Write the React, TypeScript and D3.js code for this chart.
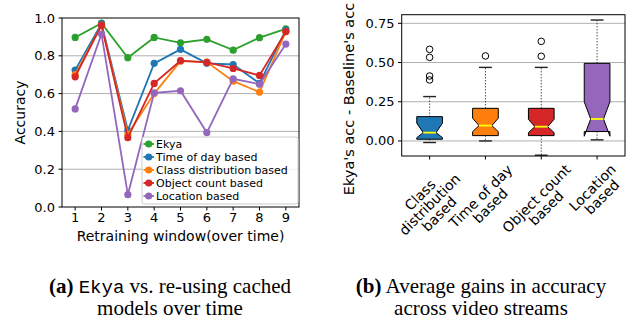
import React, { useEffect, useRef } from 'react';
import * as d3 from 'd3';

// left panel: accuracy per retraining window
const windows = [1, 2, 3, 4, 5, 6, 7, 8, 9];
const seriesNames = ['Ekya', 'Time of day based', 'Class distribution based', 'Object count based', 'Location based'];
const seriesColors = ['#2ca02c', '#1f77b4', '#ff7f0e', '#d62728', '#9467bd'];
const ekya = [0.897, 0.973, 0.79, 0.897, 0.869, 0.887, 0.83, 0.896, 0.943];
const timeOfDay = [0.724, 0.97, 0.406, 0.76, 0.834, 0.76, 0.754, 0.654, 0.936];
const classDist = [0.7, 0.962, 0.385, 0.6, 0.772, 0.767, 0.666, 0.608, 0.928];
const objectCount = [0.689, 0.962, 0.367, 0.654, 0.774, 0.765, 0.733, 0.696, 0.928];
const locationBased = [0.519, 0.915, 0.065, 0.604, 0.615, 0.394, 0.678, 0.65, 0.862];
const leftYTicks = [0.0, 0.2, 0.4, 0.6, 0.8, 1.0];

// right panel: box stats of gains
const boxLabels = [['Class', 'distribution', 'based'], ['Time of day', 'based'], ['Object count', 'based'], ['Location', 'based']];
const boxColors = ['#1f77b4', '#ff7f0e', '#d62728', '#9467bd'];
const boxQ1 = [0.011, 0.034, 0.034, 0.06];
const boxMedian = [0.053, 0.098, 0.091, 0.14];
const boxQ3 = [0.155, 0.208, 0.208, 0.495];
const notchLo = [0.021, 0.059, 0.053, 0.03];
const notchHi = [0.113, 0.145, 0.138, 0.25];
const whiskerLo = [-0.01, 0.0, -0.091, 0.007];
const whiskerHi = [0.283, 0.469, 0.469, 0.771];
const fliers = [[0.584, 0.533, 0.414, 0.389], [0.542], [0.635, 0.54], []];
const rightYTicks = [0.0, 0.25, 0.5, 0.75];

const FONT = 'DejaVu Sans';
const SERIF = "'Liberation Serif', 'Times New Roman', serif";

const App = () => {
  const ref = useRef<SVGSVGElement>(null);

  useEffect(() => {
    if (!ref.current) return;
    const svg = d3.select(ref.current);
    svg.selectAll('*').remove();

    svg.append('rect').attr('width', 631).attr('height', 325).attr('fill', '#fff');

    // ---------- left chart ----------
    const x = d3.scaleLinear().domain([0.5, 9.5]).range([62, 299]);
    const y = d3.scaleLinear().domain([0, 1]).range([207, 18]);
    const left = svg.append('g');

    left.selectAll('.grid')
      .data(leftYTicks.slice(1, -1))
      .enter()
      .append('line')
      .attr('x1', 62).attr('x2', 299)
      .attr('y1', (d) => y(d)).attr('y2', (d) => y(d))
      .attr('stroke', '#b0b0b0').attr('stroke-width', 1);

    const allSeries = [ekya, timeOfDay, classDist, objectCount, locationBased];
    const line = d3.line<number>().x((_, i) => x(windows[i])).y((d) => y(d));
    allSeries.forEach((vals, k) => {
      left.append('path')
        .attr('d', line(vals))
        .attr('fill', 'none')
        .attr('stroke', seriesColors[k])
        .attr('stroke-width', 1.8);
      left.selectAll(`.pt${k}`)
        .data(vals)
        .enter()
        .append('circle')
        .attr('cx', (_, i) => x(windows[i]))
        .attr('cy', (d) => y(d))
        .attr('r', 3.6)
        .attr('fill', seriesColors[k]);
    });

    left.append('rect')
      .attr('x', 62).attr('y', 18).attr('width', 237).attr('height', 189)
      .attr('fill', 'none').attr('stroke', '#000').attr('stroke-width', 1);

    leftYTicks.forEach((t) => {
      left.append('line').attr('x1', 58.5).attr('x2', 62).attr('y1', y(t)).attr('y2', y(t)).attr('stroke', '#000');
      left.append('text')
        .attr('x', 55).attr('y', y(t)).attr('dy', '0.35em')
        .attr('text-anchor', 'end')
        .style('font-family', FONT).style('font-size', '13px')
        .text(t.toFixed(1));
    });
    windows.forEach((w) => {
      left.append('line').attr('x1', x(w)).attr('x2', x(w)).attr('y1', 207).attr('y2', 210.5).attr('stroke', '#000');
      left.append('text')
        .attr('x', x(w)).attr('y', 222)
        .attr('text-anchor', 'middle')
        .style('font-family', FONT).style('font-size', '13px')
        .text(w);
    });
    left.append('text')
      .attr('x', 180.5).attr('y', 241)
      .attr('text-anchor', 'middle')
      .style('font-family', FONT).style('font-size', '14px')
      .text('Retraining window(over time)');
    left.append('text')
      .attr('transform', 'translate(25,112.5) rotate(-90)')
      .attr('text-anchor', 'middle')
      .style('font-family', FONT).style('font-size', '14px')
      .text('Accuracy');

    // legend
    const lg = left.append('g');
    lg.append('rect')
      .attr('x', 142).attr('y', 137).attr('width', 156).attr('height', 67)
      .attr('rx', 2).attr('fill', '#fff').attr('fill-opacity', 0.8)
      .attr('stroke', '#cccccc');
    seriesNames.forEach((name, k) => {
      const ry = 144 + k * 13;
      lg.append('line').attr('x1', 143.5).attr('x2', 154).attr('y1', ry).attr('y2', ry)
        .attr('stroke', seriesColors[k]).attr('stroke-width', 1.8);
      lg.append('circle').attr('cx', 148.7).attr('cy', ry).attr('r', 3.6).attr('fill', seriesColors[k]);
      lg.append('text')
        .attr('x', 156).attr('y', ry).attr('dy', '0.36em')
        .style('font-family', FONT).style('font-size', '11px')
        .text(name);
    });

    // ---------- right chart ----------
    const bx = d3.scaleLinear().domain([0.5, 4.5]).range([401.7, 625]);
    const by = d3.scaleLinear().domain([-0.096, 0.805]).range([156, 14.7]);
    const right = svg.append('g');

    right.selectAll('.rgrid')
      .data(rightYTicks)
      .enter()
      .append('line')
      .attr('x1', 401.7).attr('x2', 625)
      .attr('y1', (d) => by(d)).attr('y2', (d) => by(d))
      .attr('stroke', '#b0b0b0').attr('stroke-width', 1);

    const bw = bx(0.46) - bx(0);
    boxColors.forEach((col, i) => {
      const cx = bx(i + 1);
      const l = cx - bw / 2, r = cx + bw / 2;
      const cl = cx - bw / 4, cr = cx + bw / 4;
      // whiskers
      right.append('line').attr('x1', cx).attr('x2', cx).attr('y1', by(boxQ3[i])).attr('y2', by(whiskerHi[i]))
        .attr('stroke', '#000').attr('stroke-width', 1).attr('stroke-dasharray', '1,2');
      right.append('line').attr('x1', cx).attr('x2', cx).attr('y1', by(boxQ1[i])).attr('y2', by(whiskerLo[i]))
        .attr('stroke', '#000').attr('stroke-width', 1).attr('stroke-dasharray', '1,2');
      [whiskerHi[i], whiskerLo[i]].forEach((v) => {
        right.append('line').attr('x1', cl).attr('x2', cr).attr('y1', by(v)).attr('y2', by(v))
          .attr('stroke', '#222').attr('stroke-width', 1.4);
      });
      // notched box
      const pts: [number, number][] = [
        [l, by(boxQ1[i])], [l, by(notchLo[i])], [cl, by(boxMedian[i])], [l, by(notchHi[i])], [l, by(boxQ3[i])],
        [r, by(boxQ3[i])], [r, by(notchHi[i])], [cr, by(boxMedian[i])], [r, by(notchLo[i])], [r, by(boxQ1[i])],
      ];
      right.append('path')
        .attr('d', 'M' + pts.map((p) => p.join(',')).join('L') + 'Z')
        .attr('fill', col).attr('stroke', '#000').attr('stroke-width', 1);
      right.append('line').attr('x1', cl).attr('x2', cr).attr('y1', by(boxMedian[i])).attr('y2', by(boxMedian[i]))
        .attr('stroke', '#ffff00').attr('stroke-width', 1.8);
      right.selectAll(`.fl${i}`)
        .data(fliers[i])
        .enter()
        .append('circle')
        .attr('cx', cx).attr('cy', (d) => by(d)).attr('r', 3.3)
        .attr('fill', 'none').attr('stroke', '#000').attr('stroke-width', 1);
    });

    right.append('rect')
      .attr('x', 401.7).attr('y', 14.7).attr('width', 223.3).attr('height', 141.3)
      .attr('fill', 'none').attr('stroke', '#000').attr('stroke-width', 1);

    rightYTicks.forEach((t) => {
      right.append('line').attr('x1', 398).attr('x2', 401.7).attr('y1', by(t)).attr('y2', by(t)).attr('stroke', '#000');
      right.append('text')
        .attr('x', 394.5).attr('y', by(t)).attr('dy', '0.35em')
        .attr('text-anchor', 'end')
        .style('font-family', FONT).style('font-size', '13px')
        .text(t.toFixed(2));
    });
    right.append('text')
      .attr('transform', 'translate(354,99) rotate(-90)')
      .attr('text-anchor', 'middle')
      .style('font-family', FONT).style('font-size', '14.5px')
      .text("Ekya's acc - Baseline's acc");

    const y0 = 161;
    boxLabels.forEach((lines, i) => {
      const cx = bx(i + 1);
      right.append('line').attr('x1', cx).attr('x2', cx).attr('y1', 156).attr('y2', 159.5).attr('stroke', '#000');
      const g = right.append('g');
      const t = g.append('text')
        .attr('text-anchor', 'middle')
        .style('font-family', FONT).style('font-size', '14px');
      lines.forEach((s, j) => t.append('tspan').attr('x', 0).attr('dy', j === 0 ? 0 : 13.5).text(s));
      const bb = (t.node() as SVGTextElement).getBBox();
      t.attr('transform', `translate(0,${-(bb.y + bb.height / 2)})`);
      const cy = y0 + (bb.width + bb.height) / (2 * Math.SQRT2);
      g.attr('transform', `translate(${cx},${cy}) rotate(-45)`);
    });

    // ---------- captions ----------
    const caption = (cx: number, bold: string, mono: string, rest: string, line2: string) => {
      const t1 = svg.append('text')
        .attr('x', cx).attr('y', 293)
        .attr('text-anchor', 'middle')
        .style('font-family', SERIF).style('font-size', '21px');
      t1.append('tspan').style('font-weight', 'bold').text(bold);
      if (mono) {
        t1.append('tspan').text(' ');
        t1.append('tspan').style('font-family', 'Liberation Mono').style('font-size', '19px').text(mono);
      }
      t1.append('tspan').style('font-family', SERIF).text(rest);
      svg.append('text')
        .attr('x', cx).attr('y', 315)
        .attr('text-anchor', 'middle')
        .style('font-family', SERIF).style('font-size', '21px')
        .text(line2);
    };
    caption(170, '(a)', 'Ekya', ' vs. re-using cached', 'models over time');
    caption(481, '(b)', '', ' Average gains in accuracy', 'across video streams');
  }, []);

  return (
    <svg
      ref={ref}
      width={631}
      height={325}
      style={{ position: 'absolute', left: 0, top: 0, display: 'block' }}
    />
  );
};

export default App;
